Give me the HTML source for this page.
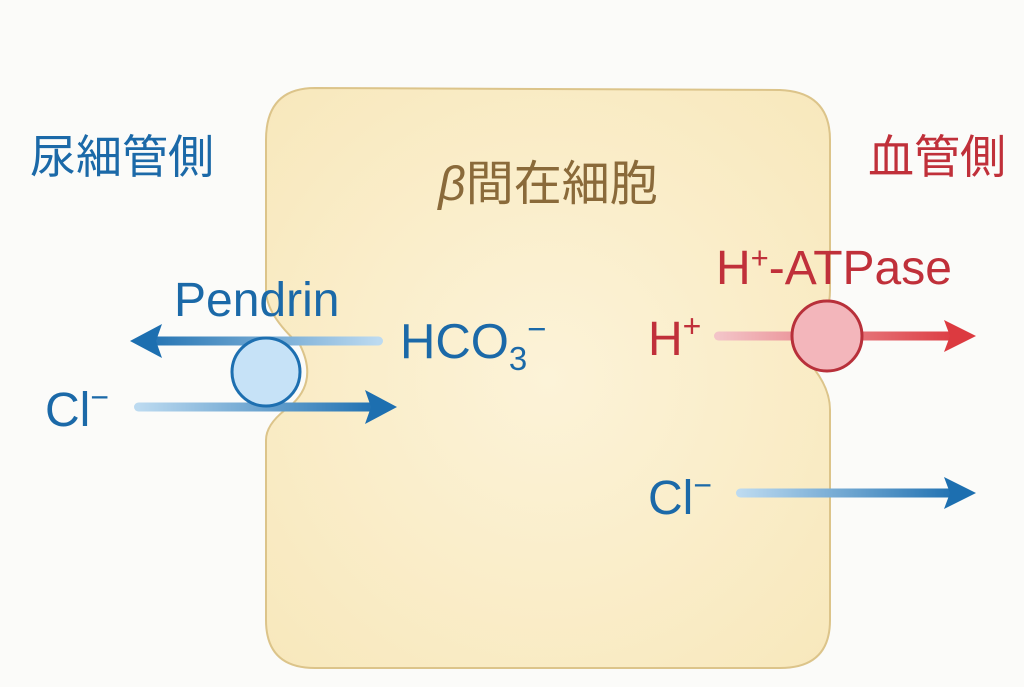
<!DOCTYPE html>
<html><head><meta charset="utf-8"><style>
html,body{margin:0;padding:0;background:#fbfbf9;}
svg{display:block}
text{font-family:"Liberation Sans","Noto Sans CJK JP",sans-serif}
</style></head><body>
<svg width="1024" height="687" viewBox="0 0 1024 687" xmlns="http://www.w3.org/2000/svg">
<defs>
<radialGradient id="cell" cx="0.5" cy="0.5" r="0.7">
<stop offset="0" stop-color="#fcf3d8"/><stop offset="1" stop-color="#f8e8bc"/>
</radialGradient>
<linearGradient id="bl1" gradientUnits="userSpaceOnUse" x1="378" y1="0" x2="140" y2="0">
<stop offset="0" stop-color="#bcdaf0"/><stop offset="1" stop-color="#1d6fb0"/></linearGradient>
<linearGradient id="bl2" gradientUnits="userSpaceOnUse" x1="138" y1="0" x2="380" y2="0">
<stop offset="0" stop-color="#bcdaf0"/><stop offset="1" stop-color="#1d6fb0"/></linearGradient>
<linearGradient id="bl3" gradientUnits="userSpaceOnUse" x1="740" y1="0" x2="960" y2="0">
<stop offset="0" stop-color="#bcdaf0"/><stop offset="1" stop-color="#1d6fb0"/></linearGradient>
<linearGradient id="rd" gradientUnits="userSpaceOnUse" x1="718" y1="0" x2="960" y2="0">
<stop offset="0" stop-color="#f3c4c8"/><stop offset="1" stop-color="#dc3a40"/></linearGradient>
</defs>
<path d="M315,88 L780,90 Q830,92 830,140 L830,290 Q830,315 815,330 Q805,345 815,370 Q830,390 830,410 L830,620 Q830,668 780,668 L315,668 Q266,668 266,620 L266,440 Q266,425 285,410 Q320,385 300,345 Q266,315 266,290 L266,140 Q266,88 315,88 Z" fill="url(#cell)" stroke="#dcc48a" stroke-width="2"/>
<text x="30" y="173" font-size="46" fill="#1b69a8">尿細管側</text>
<text x="868" y="173" font-size="46" fill="#c0303a">血管側</text>
<text x="548" y="200" font-size="48" fill="#8a6a3a" text-anchor="middle"><tspan font-style="italic">β</tspan>間在細胞</text>
<text x="174" y="316" font-size="48" fill="#1b69a8">Pendrin</text>
<text x="400" y="358" font-size="49" fill="#1b69a8">HCO<tspan font-size="33" dy="12">3</tspan><tspan font-size="33" dy="-30">−</tspan></text>
<text x="45" y="426" font-size="48" fill="#1b69a8">Cl<tspan font-size="32" dy="-18">−</tspan></text>
<text x="648" y="514" font-size="48" fill="#1b69a8">Cl<tspan font-size="32" dy="-18">−</tspan></text>
<text x="648" y="355" font-size="48" fill="#c0303a">H<tspan font-size="32" dy="-18">+</tspan></text>
<text x="716" y="284" font-size="48" fill="#c0303a">H<tspan font-size="31" dy="-16">+</tspan><tspan dy="16">-ATPase</tspan></text>
<rect x="145" y="336.5" width="238" height="9" rx="4.5" fill="url(#bl1)"/>
<polygon points="130,341 162,324 156,341 162,358" fill="#1d6fb0"/>
<rect x="134" y="402.5" width="240" height="9" rx="4.5" fill="url(#bl2)"/>
<polygon points="397,407 365,390 371,407 365,424" fill="#1d6fb0"/>
<circle cx="266" cy="372" r="34" fill="#c6e2f7" stroke="#1d6fb0" stroke-width="3"/>
<rect x="714" y="331.5" width="240" height="9" rx="4.5" fill="url(#rd)"/>
<polygon points="976,336 944,320 950,336 944,352" fill="#dc3a40"/>
<circle cx="827" cy="336" r="35" fill="#f3b6bb" stroke="#b8303a" stroke-width="3"/>
<rect x="736" y="488.5" width="218" height="9" rx="4.5" fill="url(#bl3)"/>
<polygon points="976,493 944,477 950,493 944,509" fill="#1d6fb0"/>
</svg>
</body></html>
